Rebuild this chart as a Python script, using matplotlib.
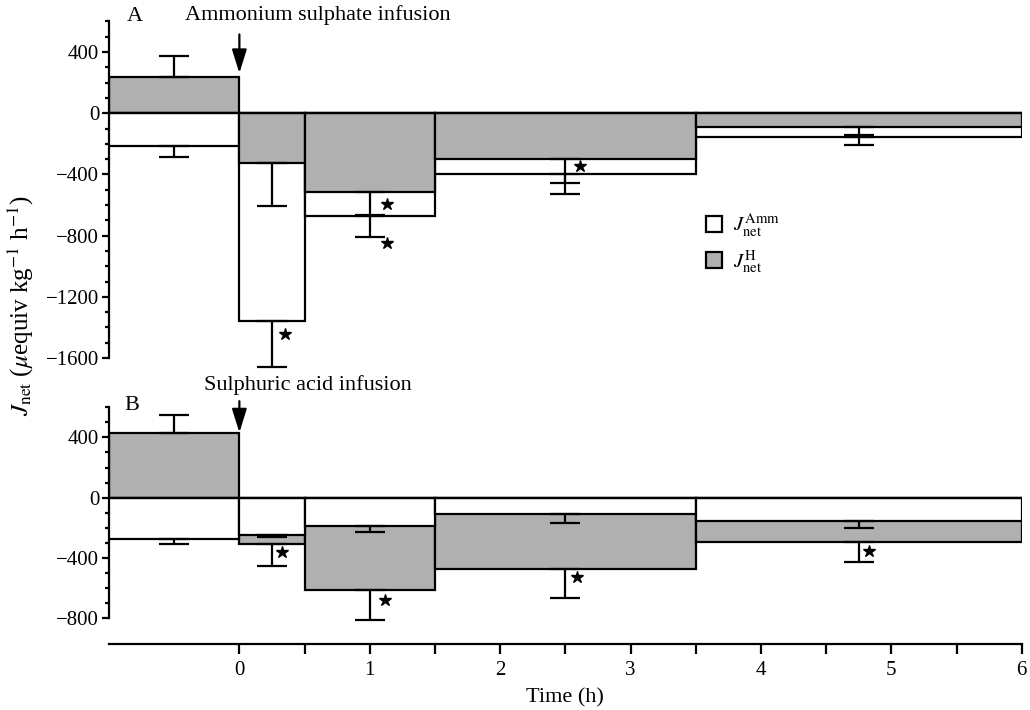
import numpy as np
import matplotlib
matplotlib.use("Agg")
import matplotlib.pyplot as plt
from matplotlib.patches import Patch

plt.rcParams["font.family"] = ["Liberation Serif", "DejaVu Serif"]
plt.rcParams["mathtext.fontset"] = "stix"

# time periods (h): edges of the collection intervals
edges = [-1, 0, 0.5, 1.5, 3.5, 6]
err_x = [-0.5, 0.25, 1.0, 2.5, 4.75]

# Panel A: ammonium sulphate infusion
amm_a = [-214, -1360, -669, -400, -156]
amm_a_err = [74, 297, 137, 128, 52]
h_a = [234, -327, -513, -299, -90]
h_a_err = [143, 278, 150, 154, 49]
star_a_x = [0.35, 1.13, 1.13, 2.61]
star_a_y = [-1440, -592, -845, -346]

# Panel B: sulphuric acid infusion
amm_b = [-273, -247, -185, -108, -156]
amm_b_err = [37, 12, 40, 61, 46]
h_b = [429, -306, -613, -474, -296]
h_b_err = [120, 145, 198, 191, 128]
star_b_x = [0.33, 1.12, 2.59, 4.83]
star_b_y = [-357, -681, -524, -354]

GRAY = "#b0b0b0"
LW = 1.6


def draw_panel(ax, amm, amm_err, h, h_err, sx, sy):
    lefts = np.array(edges[:-1])
    widths = np.diff(edges)
    for i in range(len(lefts)):
        # larger bar first, smaller one drawn over it
        bars = [(amm[i], "white"), (h[i], GRAY)]
        bars.sort(key=lambda b: -abs(b[0]))
        for z, (val, fc) in enumerate(bars):
            ax.bar(lefts[i], val, width=widths[i], align="edge", color=fc,
                   edgecolor="black", linewidth=LW, zorder=2 + z)
    for vals, errs in ((h, h_err), (amm, amm_err)):
        vals = np.array(vals)
        errs = np.array(errs)
        lo = np.where(vals < 0, errs, 0)
        hi = np.where(vals > 0, errs, 0)
        ax.errorbar(err_x, vals, yerr=[lo, hi], fmt="none", ecolor="black",
                    elinewidth=LW, capsize=11, capthick=LW, zorder=5)
    ax.plot(sx, sy, ls="none", marker="*", ms=9, color="black", zorder=6)
    ax.axhline(0, color="black", lw=LW, zorder=4)
    ax.set_xlim(-1, 6)
    for s in ("top", "right"):
        ax.spines[s].set_visible(False)
    ax.spines["left"].set_linewidth(LW)
    ax.tick_params(axis="y", which="major", length=5, width=LW, labelsize=15,
                   direction="out", pad=2)
    ax.tick_params(axis="y", which="minor", length=3, width=LW, direction="out")


fig = plt.figure(figsize=(10.3, 7.1), dpi=100)
ax_a = fig.add_axes([0.1058, 0.4741, 0.8862, 0.5])
ax_b = fig.add_axes([0.1058, 0.0930, 0.8862, 0.3377])

draw_panel(ax_a, amm_a, amm_a_err, h_a, h_a_err, star_a_x, star_a_y)
draw_panel(ax_b, amm_b, amm_b_err, h_b, h_b_err, star_b_x, star_b_y)

# panel A axes
ax_a.set_ylim(-1700, 620)
ax_a.spines["left"].set_bounds(-1600, 600)
ax_a.spines["bottom"].set_visible(False)
ax_a.set_yticks([-1600, -1200, -800, -400, 0, 400])
ax_a.set_yticks(np.arange(-1600, 601, 100), minor=True)
ax_a.set_xticks([])

# panel B axes
ax_b.set_ylim(-970, 620)
ax_b.spines["left"].set_bounds(-800, 600)
ax_b.spines["bottom"].set_linewidth(LW)
ax_b.set_yticks([-800, -400, 0, 400])
ax_b.set_yticks(np.arange(-800, 601, 100), minor=True)
ax_b.set_xticks(range(0, 7))
ax_b.set_xticks(np.arange(0.5, 6, 1.0), minor=True)
ax_b.tick_params(axis="x", which="both", length=7, width=LW, labelsize=15,
                 direction="out", pad=5)
ax_b.set_xlabel("Time (h)", fontsize=16, labelpad=6)

# annotations
ax_a.text(-0.86, 632, "A", fontsize=16, va="center", ha="left")
ax_a.text(-0.42, 642, "Ammonium sulphate infusion", fontsize=16,
          va="center", ha="left")
ax_a.annotate("", xy=(0, 262), xytext=(0, 515), annotation_clip=False,
              arrowprops=dict(arrowstyle="-|>,head_length=0.8,head_width=0.25",
                              lw=LW, color="black", mutation_scale=18,
                              shrinkA=0, shrinkB=0))

ax_b.text(-0.88, 612, "B", fontsize=16, va="center", ha="left")
ax_b.text(-0.27, 747, "Sulphuric acid infusion", fontsize=16,
          va="center", ha="left", clip_on=False)
ax_b.annotate("", xy=(0, 432), xytext=(0, 640), annotation_clip=False,
              arrowprops=dict(arrowstyle="-|>,head_length=0.8,head_width=0.25",
                              lw=LW, color="black", mutation_scale=18,
                              shrinkA=0, shrinkB=0))

fig.text(0.02, 0.569, r"$J_{\mathrm{net}}$ ($\mu$equiv kg$^{-1}$ h$^{-1}$)",
         rotation=90, fontsize=18, va="center", ha="center")

handles = [Patch(facecolor="white", edgecolor="black", linewidth=LW),
           Patch(facecolor=GRAY, edgecolor="black", linewidth=LW)]
labels = [r"$J_{\mathrm{net}}^{\mathrm{Amm}}$", r"$J_{\mathrm{net}}^{\mathrm{H}}$"]
ax_a.legend(handles, labels, loc="upper left", bbox_to_anchor=(0.685, 0.702),
            bbox_transform=fig.transFigure, frameon=False, fontsize=15,
            handlelength=0.8, handleheight=0.8, handletextpad=0.5,
            labelspacing=0.45, borderpad=0, borderaxespad=0)

fig.savefig("out.png", dpi=100)
